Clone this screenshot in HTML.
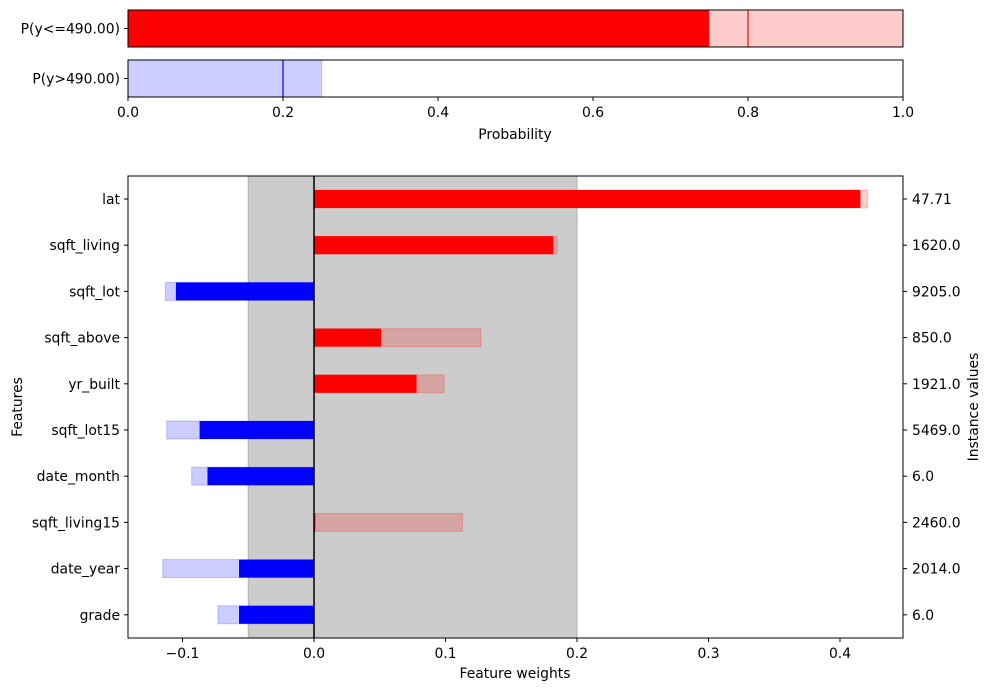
<!DOCTYPE html>
<html><head><meta charset="utf-8"><style>
body{margin:0;background:#fff;font-family:"DejaVu Sans","Liberation Sans",sans-serif;}
svg text{font-family:"DejaVu Sans","Liberation Sans",sans-serif;font-size:13.9px;fill:#000;}
</style></head><body>
<svg id="c" width="990" height="691"></svg>
<script>
const probLabels=["P(y<=490.00)","P(y>490.00)"];
const probValues=[0.75,0.25];
const probMarkers=[0.8,0.2];
const probTicks=[0,0.2,0.4,0.6,0.8,1.0];
const features=["lat","sqft_living","sqft_lot","sqft_above","yr_built","sqft_lot15","date_month","sqft_living15","date_year","grade"];
const weights=[0.4155,0.182,-0.105,0.051,0.078,-0.087,-0.081,0.001,-0.057,-0.057];
const refWeights=[0.421,0.185,-0.113,0.127,0.099,-0.112,-0.093,0.113,-0.115,-0.073];
const instanceValues=["47.71","1620.0","9205.0","850.0","1921.0","5469.0","6.0","2460.0","2014.0","6.0"];
const weightTicks=[-0.1,0.0,0.1,0.2,0.3,0.4];
const band=[-0.05,0.2];

const svg=document.getElementById('c');const NS="http://www.w3.org/2000/svg";
function el(t,a,txt){const e=document.createElementNS(NS,t);for(const k in a)e.setAttribute(k,a[k]);if(txt!==undefined)e.textContent=txt;svg.appendChild(e);return e;}
const px=v=>128+v*775;
const rows=[[10,47],[60,97]];
probLabels.forEach((l,i)=>{
  const [t,b]=rows[i];
  const fill=i==0?"#ff0000":"#0000ff", light=i==0?"rgba(255,0,0,0.2)":"rgba(0,0,255,0.2)";
  const r=el('rect',{x:px(0),y:t,width:px(1)-px(0),height:b-t,fill:'none'});
  
  
  if(i==0){
    const a=el('rect',{x:px(0),y:t,width:px(probValues[i])-px(0),height:b-t,fill:fill});
    
    
    const c=el('rect',{x:px(probValues[i]),y:t,width:px(1)-px(probValues[i]),height:b-t,fill:light});
    
    
  } else {
    const a=el('rect',{x:px(0),y:t,width:px(probValues[i])-px(0),height:b-t,fill:light,stroke:light});
    
    
  }
  const m=el('line',{x1:px(probMarkers[i]),x2:px(probMarkers[i]),y1:t,y2:b,stroke:fill,'stroke-width':1.2});
  
  
  el('rect',{x:128,y:t,width:775,height:b-t,fill:'none',stroke:'#000','stroke-width':1});
  el('line',{x1:124,x2:128,y1:(t+b)/2,y2:(t+b)/2,stroke:'#000'});
  const tl=el('text',{x:120,y:(t+b)/2+5,'text-anchor':'end'},l);
  
  
});
probTicks.forEach(v=>{
  el('line',{x1:px(v),x2:px(v),y1:97,y2:101,stroke:'#000'});
  const t=el('text',{x:px(v),y:117,'text-anchor':'middle'},v.toFixed(1));
  
  
});
const pt=el('text',{x:515,y:139,'text-anchor':'middle'},"Probability");



const X0=314,S=1315,T=176,B=638;
const wx=v=>X0+v*S;
const ry=i=>199+i*46.2;
const bg=el('rect',{x:wx(band[0]),y:T,width:wx(band[1])-wx(band[0]),height:B-T,fill:'#cccccc',stroke:'#b0b0b0'});


const bh=18;
features.forEach((f,i)=>{
  const y=ry(i)-bh/2;
  const pos=weights[i]>=0;
  const lc=pos?"rgba(255,0,0,0.2)":"rgba(0,0,255,0.2)";
  const rw=refWeights[i];
  const r=el('rect',{x:Math.min(wx(0),wx(rw)),y:y,width:Math.abs(wx(rw)-wx(0)),height:bh,fill:lc,stroke:lc});
  
  
  const w=weights[i];
  const b=el('rect',{x:Math.min(wx(0),wx(w)),y:y,width:Math.max(1,Math.abs(wx(w)-wx(0))),height:bh,fill:pos?'#ff0000':'#0000ff'});
  
  
  el('line',{x1:124,x2:128,y1:ry(i),y2:ry(i),stroke:'#000'});
  const t=el('text',{x:120,y:ry(i)+5,'text-anchor':'end'},f);
  
  
  el('line',{x1:903,x2:907,y1:ry(i),y2:ry(i),stroke:'#000'});
  const v=el('text',{x:912,y:ry(i)+5},instanceValues[i]);
  
  
});
el('line',{x1:wx(0),x2:wx(0),y1:T,y2:B,stroke:'#000','stroke-width':1.5});
el('rect',{x:128,y:T,width:775,height:B-T,fill:'none',stroke:'#000'});
weightTicks.forEach(v=>{
  el('line',{x1:wx(v),x2:wx(v),y1:B,y2:B+4,stroke:'#000'});
  const t=el('text',{x:wx(v),y:B+20,'text-anchor':'middle'},(v<0?'\u2212':'')+Math.abs(v).toFixed(1));
  
  
});
const xt=el('text',{x:515,y:678,'text-anchor':'middle'},"Feature weights");


const yt=el('text',{x:22,y:407,'text-anchor':'middle',transform:'rotate(-90 22 407)'},"Features");


const y2=el('text',{x:978,y:407,'text-anchor':'middle',transform:'rotate(-90 978 407)'},"Instance values");


</script>
</body></html>
